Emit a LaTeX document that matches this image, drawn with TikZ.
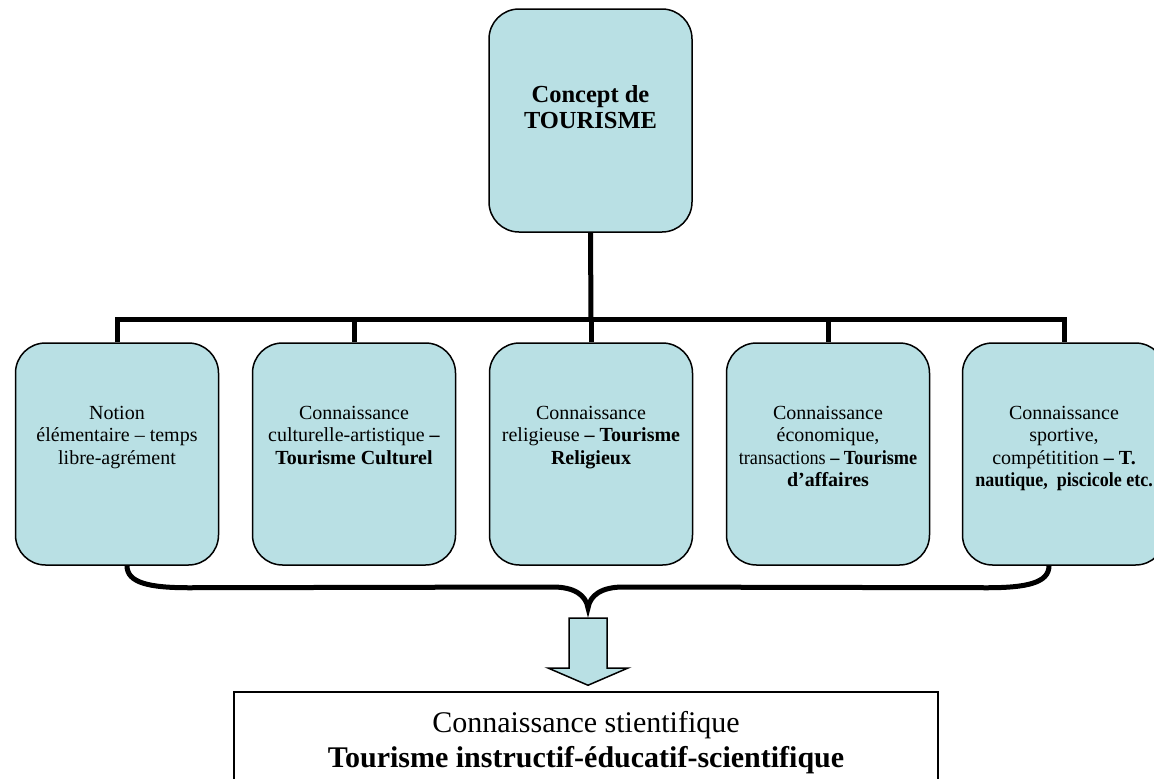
\documentclass[tikz,border=0pt]{standalone}
\usepackage{fontspec}
\setmainfont{Liberation Serif}
\usetikzlibrary{calc}
\definecolor{boxfill}{RGB}{185,224,228}
\tikzset{
  cbox/.style={draw=black, line width=1.5pt, fill=boxfill, rounded corners=30pt,
    minimum width=203pt, minimum height=222pt, inner sep=0pt},
  topbox/.style={cbox, minimum height=223pt},
  boxtext/.style={anchor=north, align=center, inner sep=0pt,
    font=\fontsize{20}{22.5}\selectfont},
  conn/.style={draw=black, line width=5pt, line join=miter},
  bracepath/.style={draw=black, line width=5pt, line cap=butt},
  resbox/.style={draw=black, line width=1.5pt, fill=white, minimum width=704pt,
    minimum height=140pt, inner sep=0pt},
  restext/.style={anchor=north, align=center, inner sep=0pt,
    font=\fontsize{30}{35}\selectfont},
  blockarrow/.style={draw=black, line width=1.5pt, fill=boxfill, line join=miter}
}
\begin{document}
\begin{tikzpicture}[x=1pt,y=-1pt]
\clip (0,0) rectangle (1154,779);
\useasboundingbox (0,0) rectangle (1154,779);

% top box
\node[topbox] (top) at (590.5,120.5) {};
\node[anchor=north, align=center, inner sep=0pt,
  font=\bfseries\fontsize{24.5}{26}\selectfont] (toptext) at (590.5,85.5)
  {Concept de\\TOURISME};

% row of boxes
\node[cbox] (b1) at (117,454) {};
\node[cbox] (b2) at (354,454) {};
\node[cbox] (b3) at (591,454) {};
\node[cbox] (b4) at (828,454) {};
\node[cbox] (b5) at (1064,454) {};

\node[boxtext] (t1) at (117,406) {Notion\\élémentaire – temps\\libre-agrément};
\node[boxtext] (t2) at (354,406) {Connaissance\\culturelle-artistique \textbf{–}\\\textbf{Tourisme Culturel}};
\node[boxtext] (t3) at (591,406) {Connaissance\\religieuse \textbf{– Tourisme}\\\textbf{Religieux}};
\node[boxtext] (t4) at (828,406) {Connaissance\\économique,\\\scalebox{0.91}[1]{transactions \textbf{– Tourisme}}\\\textbf{d’affaires}};
\node[boxtext] (t5) at (1064,406) {Connaissance\\sportive,\\compétitition \textbf{– T.}\\\scalebox{0.9}[1]{\textbf{nautique,\ \ piscicole etc.}}};

% tree connectors
\coordinate (bar) at (591,319.5);
\draw[conn] (top.south) -- (bar);
\draw[conn] (b1.north) |- (bar) -| (b5.north);
\draw[conn] (b2.north) -- (b2.north |- bar);
\draw[conn] (b3.north) -- (b3.north |- bar);
\draw[conn] (b4.north) -- (b4.north |- bar);

% brace
\coordinate (bl) at ($(b1.south)+(10,0)$);
\coordinate (br) at ($(b5.south)+(-15,0)$);
\coordinate (tip) at (588,608);
\draw[bracepath] (bl) .. controls ($(bl)+(0,17)$) and ($(bl)+(22,22)$) .. ($(bl)+(62,22)$)
  -- ($(tip)+(-35,-21)$) .. controls ($(tip)+(-14,-21)$) and ($(tip)+(-2,-13)$) .. (tip)
  .. controls ($(tip)+(2,-13)$) and ($(tip)+(14,-21)$) .. ($(tip)+(35,-21)$)
  -- ($(br)+(-62,22)$) .. controls ($(br)+(-22,22)$) and ($(br)+(0,17)$) .. (br);

% result box
\node[resbox] (res) at (586,762) {};
\node[restext] (restxt) at (586,711) {Connaissance stientifique\\\textbf{Tourisme instructif-éducatif-scientifique}};

% block arrow
\coordinate (atop) at (588,618);
\draw[blockarrow] ($(atop)+(-19,0)$) -- ($(atop)+(19,0)$) -- ($(atop)+(19,50)$)
  -- ($(atop)+(40,50)$) -- ($(res.north)+(2,-6)$) -- ($(atop)+(-40,50)$)
  -- ($(atop)+(-19,50)$) -- cycle;
\end{tikzpicture}
\end{document}
